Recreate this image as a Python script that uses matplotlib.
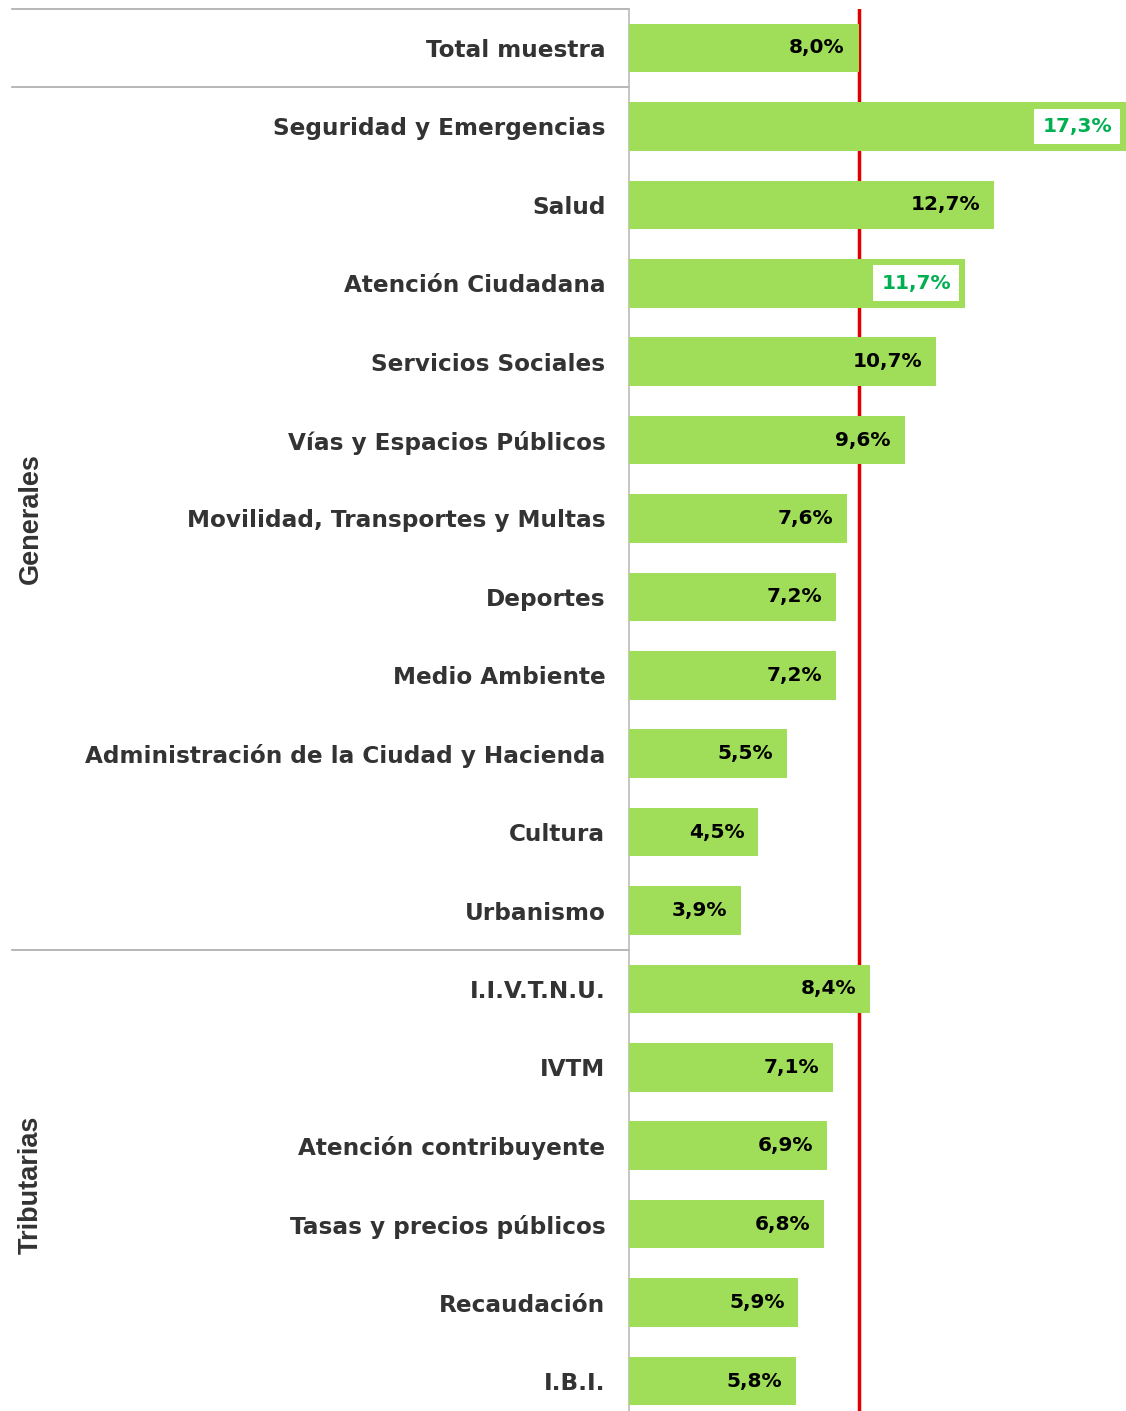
import matplotlib.pyplot as plt
import matplotlib.transforms as mtransforms

categories = ["Total muestra", "Seguridad y Emergencias", "Salud", "Atención Ciudadana",
              "Servicios Sociales", "Vías y Espacios Públicos", "Movilidad, Transportes y Multas",
              "Deportes", "Medio Ambiente", "Administración de la Ciudad y Hacienda", "Cultura",
              "Urbanismo", "I.I.V.T.N.U.", "IVTM", "Atención contribuyente",
              "Tasas y precios públicos", "Recaudación", "I.B.I."]
values = [8.0, 17.3, 12.7, 11.7, 10.7, 9.6, 7.6, 7.2, 7.2, 5.5, 4.5, 3.9,
          8.4, 7.1, 6.9, 6.8, 5.9, 5.8]
highlight = ["Seguridad y Emergencias", "Atención Ciudadana"]
reference = 8.0
groups = [("Generales", 1, 11), ("Tributarias", 12, 17)]

W, H = 1126, 1411
fig = plt.figure(figsize=(W / 100, H / 100), dpi=100)
spacing = (1381 - 48) / 17
top_px = 48 - spacing / 2
bot_px = 1381 + spacing / 2
ax = fig.add_axes([629 / W, 1 - bot_px / H, 1 - 629 / W, (bot_px - top_px) / H])

y = list(range(len(categories)))
ax.barh(y, values, height=0.62, color="#A0DE5A", zorder=3)
ax.axvline(reference, color="#E00000", lw=2.5, zorder=2)
ax.set_xlim(0, 17.3)
ax.set_ylim(len(categories) - 0.5, -0.5)

ax.set_yticks(y)
ax.set_yticklabels(categories, fontsize=16.7, fontweight="bold", color="#333333",
                   family="DejaVu Sans")
ax.tick_params(axis="y", length=0, pad=17)
ax.set_xticks([])
for s in ["top", "right", "bottom"]:
    ax.spines[s].set_visible(False)
ax.spines["left"].set_color("#BBBBBB")
ax.spines["left"].set_linewidth(1.2)

# value labels
off = mtransforms.offset_copy(ax.transData, fig=fig, x=-14, y=0, units="dots")
for cat, v, yy in zip(categories, values, y):
    txt = f"{v:.1f}%".replace(".", ",")
    if cat in highlight:
        ax.text(v, yy, txt, transform=off, ha="right", va="center", fontsize=14.5,
                fontweight="bold", color="#00B050", zorder=5,
                bbox=dict(facecolor="white", edgecolor="none", pad=6))
    else:
        ax.text(v, yy, txt, transform=off, ha="right", va="center", fontsize=14.5,
                fontweight="bold", color="black", zorder=5)

# separators on the label side
xmin = -(629 - 12) / (W - 629)
for yy in [-0.5, 0.5, 11.5]:
    ax.axhline(yy, xmin=xmin, xmax=0, color="#AAAAAA", lw=1.2, clip_on=False)

# group labels
tr = mtransforms.blended_transform_factory(fig.transFigure, ax.transData)
for name, a, b in groups:
    ax.text(31 / W, (a + b) / 2, name, transform=tr, rotation=90, ha="center",
            va="center", fontsize=19.5, fontweight="bold", color="#333333",
            family="Liberation Sans")

fig.savefig("out.png", dpi=100)
